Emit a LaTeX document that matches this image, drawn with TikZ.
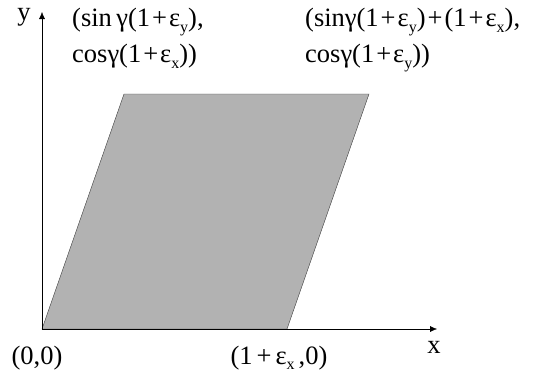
\documentclass[tikz,border=0pt]{standalone}
\usepackage{fontspec}
\setmainfont{Liberation Serif}
\usetikzlibrary{arrows.meta}
\newcommand{\lowsub}[1]{\raisebox{-0.45ex}{\fontsize{16}{16}\selectfont #1}}
\newcommand{\pl}{\kern2pt+\kern2pt}
\tikzset{
  axis/.style={thin,-{Latex[length=7pt,width=6pt]}},
  lbl/.style={font=\fontsize{26.5}{36}\selectfont,inner sep=0pt},
  blk/.style={lbl,align=left,anchor=north west}
}
\begin{document}
\begin{tikzpicture}
    [x=1pt,y=-1pt]
    \useasboundingbox (0,0) rectangle (533,380);
    %corners
    \coordinate (O) at (42,329);
    \coordinate (A) at (287,329);
    \coordinate (B) at (369,94);
    \coordinate (C) at (124,94);
    \coordinate (ytip) at (42,12);
    \coordinate (xtip) at (437,329);
    %parallelogram
    \draw[fill={rgb,255:red,178;green,178;blue,178},draw={rgb,255:red,60;green,60;blue,60}] (O)--(A)--(B)--(C)--cycle;
    %axes
    \draw[axis] (O)--(ytip);
    \draw[axis] (O)--(xtip);
    %labels
    \node[lbl] (ylab) at (24,17) {y};
    \node[lbl] (xlab) at (434,347) {x};
    \node[lbl] (olab) at (37,358) {(0,0)};
    \node[lbl] (alab) at (279,358) {(1\kern4pt+\kern4pt ε\lowsub{x}\kern4pt,0)};
    \node[blk] (clab) at (72,8) {(sin\,γ(1\pl ε\lowsub{y}),\\ cosγ(1\pl ε\lowsub{x}))};
    \node[blk] (blab) at (305,8) {(sinγ(1\pl ε\lowsub{y})\pl(1\pl ε\lowsub{x}),\\ cosγ(1\pl ε\lowsub{y}))};
\end{tikzpicture}
\end{document}
